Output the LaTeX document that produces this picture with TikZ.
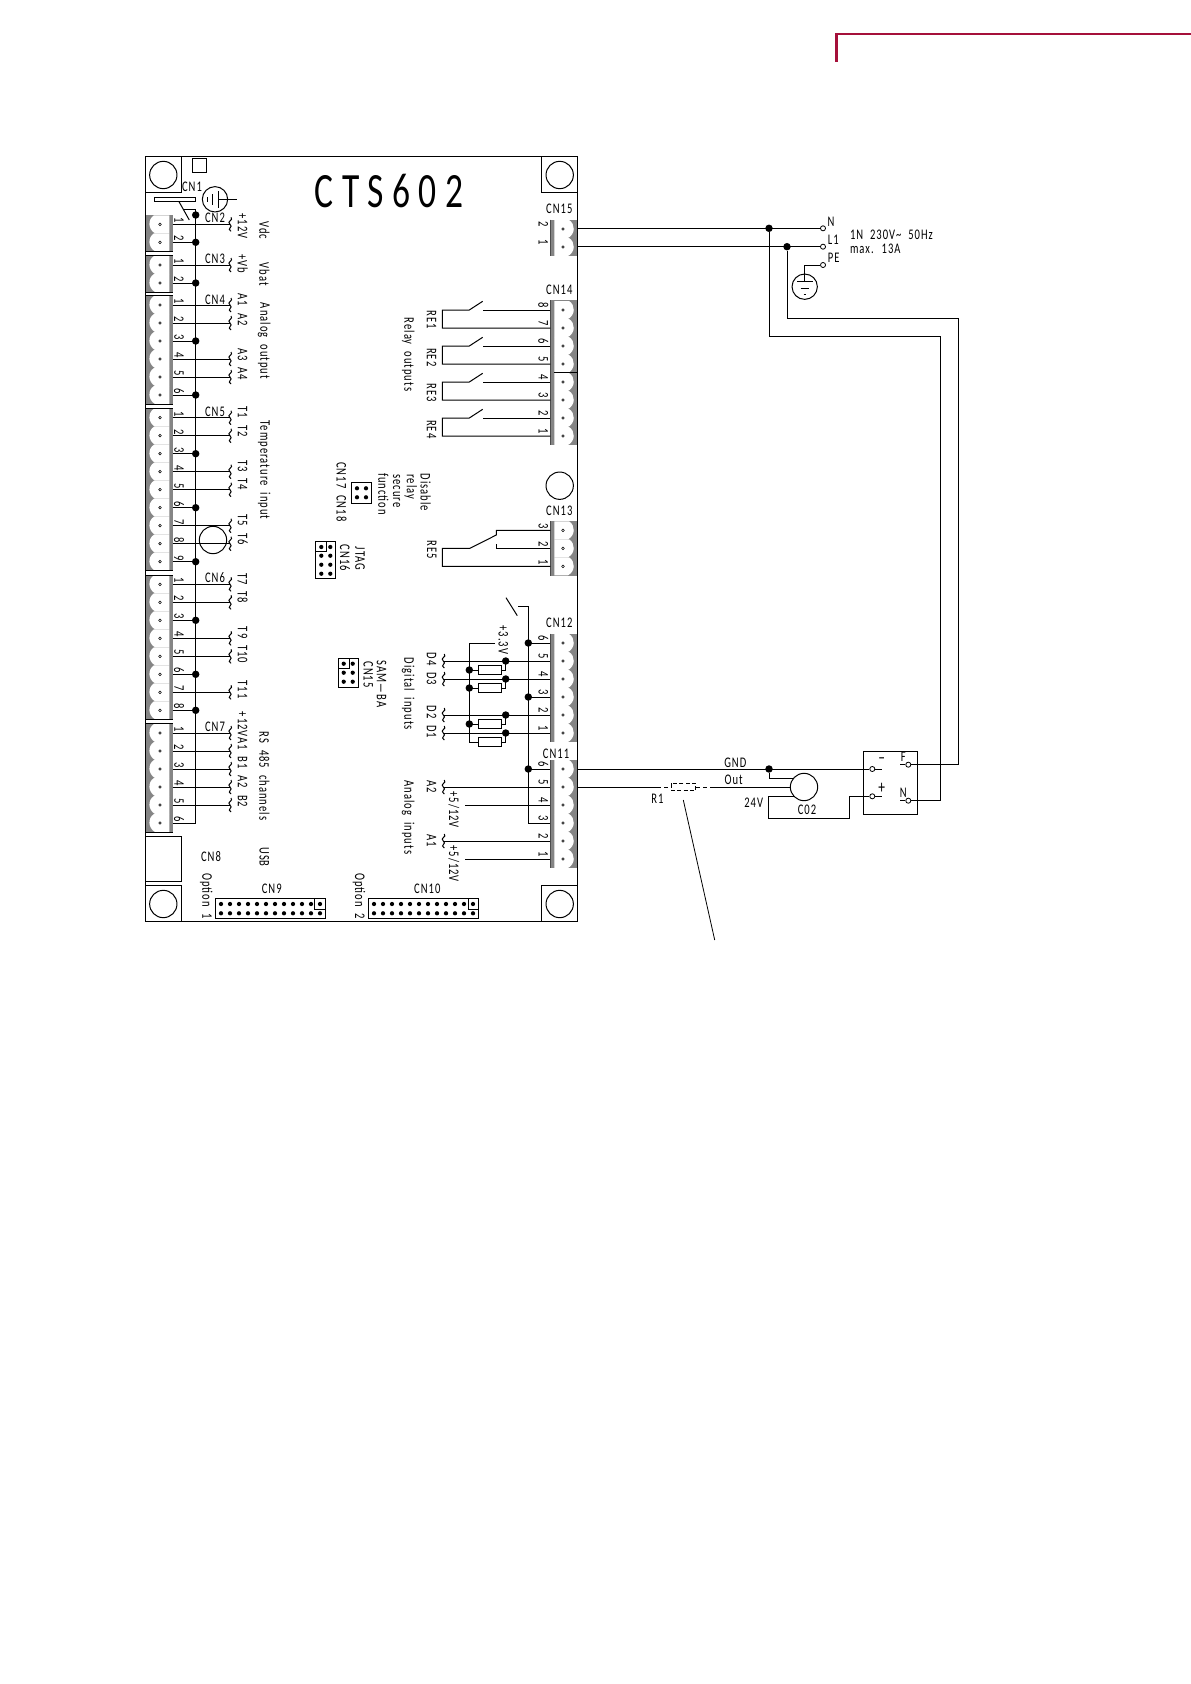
\documentclass[tikz,border=0pt]{standalone}
\usepackage{fontspec}
\setmainfont{Carlito}[FakeStretch=0.72,LetterSpace=7,WordSpace=2]
\usetikzlibrary{calc}
\definecolor{termgray}{HTML}{858585}
\definecolor{headred}{HTML}{A5103A}
\tikzset{
  wire/.style={draw=black,line width=0.75pt,line join=miter},
  thinbox/.style={draw=black,line width=0.75pt},
  joint/.style={circle,fill=black,draw=none,inner sep=0pt,minimum size=5.6pt},
  hole/.style={circle,fill=white,draw=black,line width=0.6pt,inner sep=0pt,minimum size=3.8pt},
  mount/.style={circle,draw=black,line width=0.75pt,inner sep=0pt,fill=none,minimum size=20.5pt},
  lab/.style={inner sep=0pt,outer sep=0pt,font=\fontsize{11pt}{12pt}\selectfont},
  rlab/.style={lab,rotate=-90},
  pinno/.style={lab,rotate=-90},
  pindot/.style={circle,draw=black,line width=0.4pt,fill=white,inner sep=0pt,minimum size=2pt},
  hdrdot/.style={circle,fill=black,inner sep=0pt,minimum size=3.2pt},
}
% left pin: prefix, number, y
\newcommand{\pinL}[3]{%
  \fill[white] (169.3,#3-9) -- (154,#3-9) .. controls (147.5,#3-5) and (148,#3+5) .. (155,#3+9) -- (169.3,#3+9) -- cycle;
  \node[pindot] (#1d#2) at (160,#3) {};
  \coordinate (#1p#2) at (172.7,#3);
  \node[pinno] (#1n#2) at (179,#3-4) {#2};
}
% right pin
\newcommand{\pinR}[3]{%
  \fill[white] (554.3,#3-9) -- (569,#3-9) .. controls (575.5,#3-5) and (575.5,#3+5) .. (568,#3+9) -- (554.3,#3+9) -- cycle;
  \node[pindot] (#1d#2) at (563,#3) {};
  \coordinate (#1p#2) at (550.3,#3);
  \coordinate (#1o#2) at (577.3,#3);
  \node[pinno] (#1n#2) at (543.3,#3-4.5) {#2};
}
% terminal backgrounds
\newcommand{\stripL}[2]{\fill[termgray] (145.3,#1) rectangle (172.7,#2);}
\newcommand{\stripR}[2]{\fill[termgray] (550.3,#1) rectangle (577.3,#2);}
% squiggle end at a coordinate
\newcommand{\squig}[1]{\draw[wire,shift={(#1)}] (1,-7) .. controls (4,-4) and (-4,-3) .. (0,0) .. controls (4,3) and (-4,4) .. (1,7);}
% signal wire left with squiggle
\newcommand{\sigL}[1]{\coordinate (#1e) at (#1 -| 230,0); \draw[wire] (#1) -- (#1e); \squig{#1e}}
\newcommand{\gndL}[1]{\draw[wire] (#1) -- (#1 -| bus); \node[joint] at (#1 -| bus) {};}
\newcommand{\sigR}[1]{\coordinate (#1e) at (#1 -| 443.3,0); \draw[wire] (#1) -- (#1e); \squig{#1e}}
\begin{document}
\begin{tikzpicture}[x=0.75pt,y=-0.75pt]
\useasboundingbox (0,0) rectangle (1191,1684);
% header rule
\draw[headred,line width=2pt] (836.7,61.7) -- (836.7,34) -- (1191,34);
% board
\coordinate (bus) at (195.7,209.5);
\coordinate (busR) at (528.3,606.3);
\draw[thinbox] (145.3,156) rectangle (577.3,921.3);
\draw[thinbox] (145.3,156) rectangle (181.7,192.5);
\draw[thinbox] (541.7,156) rectangle (577.3,192.3);
\draw[thinbox] (145.3,885.7) rectangle (181.7,921.3);
\draw[thinbox] (541.7,885.7) rectangle (577.3,921.3);
\draw[thinbox] (145.3,836) rectangle (181.7,881.7);
\draw[thinbox] (192.3,158.3) rectangle (206.7,172.7);
\node[mount] (m1) at (163.3,175) {};
\node[mount] (m2) at (559.7,175) {};
\node[mount] (m3) at (163.3,904) {};
\node[mount] (m4) at (559.7,904) {};
\node[mount] (m5) at (559.7,485.7) {};
\node[mount] (m6) at (213,540) {};
% title
\node[inner sep=0pt,font=\fontsize{37pt}{40pt}\selectfont\addfontfeature{LetterSpace=17}] (title) at (389,191) {CTS602};
% CN1 group
\node[lab] (cn1) at (192,186.5) {CN1};
\draw[thinbox] (154,197) rectangle (195.7,201.7);
\draw[wire] (179,201.7) -- (189.3,220);
\node[mount,minimum size=19pt] (gnd1) at (215,199.3) {};
\draw[wire] (218.3,199.3) -- (236.7,199.3);
\draw[wire] (218.3,191) -- (218.3,207.6);
\draw[wire] (212.7,194) -- (212.7,204.6);
\draw[wire] (207.3,197) -- (207.3,202);
\draw[wire] (184,209.5) -- (bus) -- (195.7,823) -- (172.7,823);
% left terminals
\stripL{215}{251.3}\stripL{255.7}{292}\stripL{295.7}{404.3}\stripL{408.3}{570.7}\stripL{575}{719.3}\stripL{723.3}{832}
\foreach \n/\y in {1/224.3,2/242.3}{\pinL{cn2}{\n}{\y}}
\foreach \n/\y in {1/265,2/283}{\pinL{cn3}{\n}{\y}}
\foreach \n/\y in {1/305,2/323,3/341,4/359,5/377,6/395}{\pinL{cn4}{\n}{\y}}
\foreach \n/\y in {1/417.7,2/435.7,3/453.7,4/471.7,5/489.7,6/507.7,7/525.7,8/543.7,9/561.7}{\pinL{cn5}{\n}{\y}}
\foreach \n/\y in {1/584.3,2/602.3,3/620.3,4/638.3,5/656.3,6/674.3,7/692.3,8/710.3}{\pinL{cn6}{\n}{\y}}
\foreach \n/\y in {1/733,2/751,3/769,4/787,5/805,6/823}{\pinL{cn7}{\n}{\y}}
\draw[wire] (145.3,156) -- (145.3,921.3);
\foreach \a in {251.3,255.7,292,295.7,404.3,408.3,570.7,575,719.3,723.3,832}{\draw[line width=0.5pt] (145.3,\a) -- (172.7,\a);}
\node[joint] (j0) at (195.7,215) {};
\sigL{cn2p1}\gndL{cn2p2}
\sigL{cn3p1}\gndL{cn3p2}
\sigL{cn4p1}\sigL{cn4p2}\gndL{cn4p3}\sigL{cn4p4}\sigL{cn4p5}\gndL{cn4p6}
\sigL{cn5p1}\sigL{cn5p2}\gndL{cn5p3}\sigL{cn5p4}\sigL{cn5p5}\gndL{cn5p6}\sigL{cn5p7}\sigL{cn5p8}\gndL{cn5p9}
\sigL{cn6p1}\sigL{cn6p2}\gndL{cn6p3}\sigL{cn6p4}\sigL{cn6p5}\gndL{cn6p6}\sigL{cn6p7}\gndL{cn6p8}
\sigL{cn7p1}\sigL{cn7p2}\sigL{cn7p3}\sigL{cn7p4}\sigL{cn7p5}
% left labels
\foreach \t/\y/\nm in {CN2/217.3/a,CN3/258.3/b,CN4/299.3/c,CN5/411.7/d,CN6/577.7/e,CN7/726.3/f}{\node[lab] (lb\nm) at (215,\y) {\t};}
\foreach \t/\y/\nm in {+12V/226/a,+Vb/264/b,A1 A2/309.7/c,A3 A4/364/d,T1 T2/421.7/e,T3 T4/475.3/f,T5 T6/529.7/g,T7 T8/588.3/h,T9 T10/645/i,T11/689.5/j,+12VA1 B1 A2 B2/759.5/k}{\node[rlab] (sg\nm) at (242.7,\y) {\t};}
\foreach \t/\y/\nm in {Vdc/230.5/a,Vbat/274/b,Analog output/341/c,Temperature input/470/d,RS 485 channels/776/e,USB/857/f}{\node[rlab] (fn\nm) at (264.3,\y) {\t};}
\node[lab] (cn8) at (211,856.7) {CN8};
\node[rlab] (op1) at (206.3,896) {Option 1};
\node[rlab] (op2) at (359,896) {Option 2};
\node[lab] (cn9) at (271.7,888.3) {CN9};
\node[lab] (cn10) at (427.3,888.3) {CN10};
% headers
\draw[thinbox] (215.7,898.7) rectangle (325.3,918.3);
\draw[thinbox] (314.3,898.7) rectangle (325.3,909);
\draw[thinbox] (368.3,898.7) rectangle (478.7,918.3);
\draw[thinbox] (468.3,898.7) rectangle (478.7,909);
\foreach \i in {0,...,11}{
  \node[hdrdot] at (221+9*\i,904) {}; \node[hdrdot] at (221+9*\i,913.3) {};
  \node[hdrdot] at (374+9*\i,904) {}; \node[hdrdot] at (374+9*\i,913.3) {};
}
\draw[thinbox] (351.3,482.3) rectangle (371.3,503.3);
\foreach \x in {357,366}{\foreach \y in {488.3,497.3}{\node[hdrdot] at (\x,\y) {};}}
\draw[thinbox] (315.3,541.3) rectangle (335.3,578.3);
\draw[thinbox] (315.3,541.3) rectangle (326,551.7);
\foreach \x in {321.3,330.3}{\foreach \y in {547,555.7,564.7,573.7}{\node[hdrdot] at (\x,\y) {};}}
\draw[thinbox] (338.3,658.3) rectangle (358.3,687.3);
\draw[thinbox] (338.3,658.3) rectangle (349,668.7);
\foreach \x in {343.7,352.7}{\foreach \y in {663.7,672.7,681.7}{\node[hdrdot] at (\x,\y) {};}}
\foreach \t/\x/\y/\nm in {CN17 CN18/341.7/491.8/a,function/383.3/494/b,secure/396.7/491/c,relay/410.7/486.7/d,Disable/425.7/492.5/e,JTAG/360/558.7/f,CN16/345/557.7/g,SAM---BA/381.7/684/h,CN15/368.3/674.5/i,Relay outputs/408.3/354.5/j,Digital inputs/408.3/693.7/k,Analog inputs/408.3/817.5/l,RE1/431.7/320/m,RE2/431.7/357.3/n,RE3/431.7/392.7/o,RE4/431.7/429.3/p,RE5/431.7/550/q,D4 D3/431.7/669/r,D2 D1/431.7/722/s,A2/431.7/786.3/t,A1/431.7/840.7/u,{+5/12V}/454/809.7/v,{+5/12V}/454/863.7/w,+3.3V/503.3/640/x}{\node[rlab] (mid\nm) at (\x,\y) {\t};}
% right terminals
\stripR{219.7}{255.7}\stripR{300.3}{445}\stripR{521.3}{575.7}\stripR{633.7}{742.3}\stripR{760}{867.7}
\foreach \n/\y in {2/229,1/247}{\pinR{cnf}{\n}{\y}}
\foreach \n/\y in {8/310,7/328,6/346,5/364,4/382,3/400,2/418,1/436}{\pinR{cnd}{\n}{\y}}
\foreach \n/\y in {3/530.3,2/548.3,1/566.3}{\pinR{cnc}{\n}{\y}}
\foreach \n/\y in {6/643,5/661,4/679,3/697,2/715,1/733}{\pinR{cnb}{\n}{\y}}
\foreach \n/\y in {6/769,5/787,4/805,3/823,2/841,1/859}{\pinR{cna}{\n}{\y}}
\foreach \a/\b in {219.7/255.7,300.3/445,521.3/575.7,633.7/742.3,760/867.7}{\draw[line width=0.9pt,black!70] (550.3,\a) -- (550.3,\b);}
\draw[wire] (554.3,372.3) -- (577.3,372.3);
\node[lab] (cn15) at (559.3,209) {CN15};
\node[lab] (cn14) at (559.3,289.7) {CN14};
\node[lab] (cn13) at (559.3,510.3) {CN13};
\node[lab] (cn12) at (559.3,622.7) {CN12};
\node[lab] (cn11) at (556,753.3) {CN11};
% relays
\foreach \p/\q in {8/7,6/5,4/3,2/1}{
  \coordinate (tipa\p) at ($(cndp\p)+(-67.6,-8.7)$);
  \coordinate (tipb\p) at ($(cndp\p)+(-81,0)$);
  \draw[wire] (cndp\p) -- (cndp\p -| tipa\p);
  \draw[wire] (tipa\p) -- (tipb\p) -- (cndp\p -| 442.3,0) -- (cndp\q -| 442.3,0) -- (cndp\q);
}
% RE5
\coordinate (resa) at (496.3,535);
\coordinate (resb) at (470,548.3);
\draw[wire] (cncp3) -- (cncp3 -| resa) -- (resa) -- (resb) -- (442.3,548.3) -- (442.3,566.3) -- (cncp1);
\draw[wire] (cncp2) -- (cncp2 -| resa) -- (496.3,543.7);
% CN12/CN11 bus
\coordinate (busE) at (528.3,823);
\draw[wire] (506,597.7) -- (517.3,615.7);
\draw[wire] (518.3,606.3) -- (busR) -- (busE) -- (cnap3);
\foreach \c in {cnbp6,cnbp3,cnap6}{\draw[wire] (\c) -- (\c -| busR); \node[joint] at (\c -| busR) {};}
\sigR{cnbp5}\sigR{cnbp4}\sigR{cnbp2}\sigR{cnbp1}\sigR{cnap5}\sigR{cnap2}
\draw[wire] (cnap4) -- (cnap4 -| 465,0);
\draw[wire] (cnap1) -- (cnap1 -| 465,0);
% digital input resistors
\coordinate (railT) at (469.3,643);
\coordinate (railB) at (469.3,742);
\draw[wire] (495,643) -- (railT) -- (railB);
\foreach \yb/\pin/\nm in {670/cnbp5/a,688/cnbp4/b,724/cnbp2/c,742/cnbp1/d}{
  \node[draw=black,line width=0.75pt,fill=white,minimum width=17.5pt,minimum height=6.8pt,inner sep=0pt] (res\nm) at (490,\yb) {};
  \draw[wire] (res\nm.west) -- (469.3,\yb);
  \draw[wire] (res\nm.east) -- (505.7,\yb) -- (\pin -| 505.7,0);
  \node[joint] at (\pin -| 505.7,0) {};
}
\foreach \yb in {670,688,724}{\node[joint] at (469.3,\yb) {};}
% right field wiring
\node[joint] (jgnd) at (769,769) {};
\node[hole] (tminus) at (872.3,769) {};
\node[hole] (tplus) at (872.3,796.3) {};
\node[hole] (tf) at (908.3,764.7) {};
\node[hole] (tn) at (908.3,800.7) {};
\draw[wire] (cnao6) -- (tminus);
\draw[thinbox] (863.3,751) rectangle (917.7,814.3);
\draw[wire] (tminus.east) -- (881.7,769);
\draw[wire] (tplus.east) -- (881.7,796.3);
\draw[wire] (900,764.7) -- (tf.west);
\draw[wire] (900,800.7) -- (tn.west);
\node[lab,font=\fontsize{14pt}{15pt}\selectfont] at (881.7,761) {--};
\node[lab,font=\fontsize{14pt}{15pt}\selectfont] at (881.7,788.7) {+};
\node[lab] (lf) at (903.3,756.7) {F};
\node[lab] (ln) at (903.3,792.3) {N};
\node[mount] (co2) at (804,787) {};
\draw[wire] (jgnd) |- (793.3,778.3);
\draw[wire] (cnao5) -- (656.7,787);
\draw[wire] (710,787) -- (co2.west);
\draw[wire,dash pattern=on 3pt off 2.5pt] (656.7,787) -- (671.7,787);
\draw[wire,dash pattern=on 3pt off 2.5pt] (695.7,787) -- (710,787);
\draw[wire,dash pattern=on 3pt off 1.8pt] (671.7,783.3) rectangle (695.7,790.7);
\draw[wire] (795,796.3) -- (768.3,796.3) -- (768.3,818.3) -- (849.7,818.3) -- (849.7,796.3) -- (tplus.west);
\draw[wire,line width=0.6pt] (683.3,800) -- (714.7,940);
\node[lab] (lr1) at (657.3,798.3) {R1};
\node[lab] (lgnd) at (735.3,762.3) {GND};
\node[lab] (lout) at (733.7,780) {Out};
\node[lab] (l24) at (753.7,802.3) {24V};
\node[lab] (lco2) at (807,809.3) {C02};
% mains
\node[hole] (hn) at (823,228.3) {};
\node[hole] (hl) at (823,246.7) {};
\node[hole] (hp) at (823,265) {};
\node[joint] (jn) at (769,228.3) {};
\node[joint] (jl) at (787,246.7) {};
\draw[wire] (cnfo2 |- hn) -- (hn);
\draw[wire] (cnfo1 |- hl) -- (hl);
\draw[wire] (jl) -- (787,318.3) -- (958.3,318.3) -- (958.3,764.7) -- (tf);
\draw[wire] (jn) -- (769,336) -- (940.7,336) -- (940.7,800.7) -- (tn);
\node[mount,minimum size=19pt] (gnd2) at (804.7,286.7) {};
\draw[wire] (hp) -- (804.7,265) -- (804.7,281.7);
\draw[wire] (797,281.7) -- (812.7,281.7);
\draw[wire] (800.7,288.3) -- (809.3,288.3);
\draw[wire] (803.5,294) -- (806,294);
\node[lab] (ln2) at (831,221.3) {N};
\node[lab] (ll1) at (833.3,239.7) {L1};
\node[lab] (lpe) at (833.7,257.3) {PE};
\node[lab,anchor=west] (lmain) at (850,235) {1N 230V\textasciitilde{} 50Hz};
\node[lab,anchor=west] (lmax) at (850,249) {max. 13A};
\end{tikzpicture}
\end{document}
